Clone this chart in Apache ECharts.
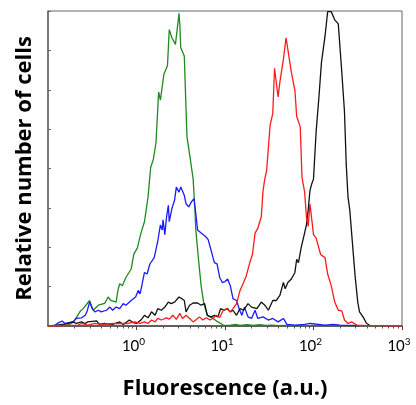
<!DOCTYPE html>
<html>
<head>
<meta charset="utf-8">
<script src="https://cdn.jsdelivr.net/npm/echarts@6/dist/echarts.min.js"></script>
<style>
  html, body { margin: 0; padding: 0; background: #fff; }
  #histogram { width: 416px; height: 405px; }
</style>
</head>
<body>
<div id="histogram"></div>
<script>
// each point: [log10(fluorescence), relative count]
const greenHist = [
  [-1.00, 0], [-0.92, 0.3], [-0.84, 0.3], [-0.77, 0.3], [-0.71, 1.3], [-0.64, 4.5], [-0.60, 5.6],
  [-0.53, 8.1], [-0.49, 5.0], [-0.43, 6.6], [-0.36, 7.2], [-0.32, 9.2], [-0.29, 8.1], [-0.23, 7.6],
  [-0.21, 11.3], [-0.19, 13.4], [-0.16, 12.8], [-0.12, 15.4], [-0.06, 18.1], [-0.03, 22.8], [0.01, 24.8],
  [0.05, 29.5], [0.09, 33.1], [0.11, 32.6], [0.13, 40.9], [0.15, 47.2], [0.16, 50.3], [0.19, 52.9],
  [0.22, 58.1], [0.25, 74.3], [0.27, 71.7], [0.28, 71.3], [0.31, 80.0], [0.35, 82.6], [0.37, 94.1],
  [0.40, 91.5], [0.44, 89.4], [0.47, 96.7], [0.48, 99.3], [0.49, 95.6], [0.50, 88.3], [0.54, 85.7],
  [0.57, 60.2], [0.60, 54.5], [0.64, 46.7], [0.66, 36.9], [0.67, 30.6], [0.70, 21.3], [0.73, 12.8],
  [0.76, 7.2], [0.80, 3.4], [0.86, 2.5], [0.92, 1.3], [0.98, 0.3], [1.05, 0.2], [1.12, 0.5],
  [1.17, 0.2], [1.25, 0.4], [1.32, 0.2], [1.39, 0.4], [1.46, 0.2], [1.53, 0.3], [1.60, 0.1],
  [1.67, 0.2], [1.73, 0.1], [1.85, 0]
];
const blueHist = [
  [-0.92, 0.3], [-0.89, 0.9], [-0.84, 1.6], [-0.81, 0.8], [-0.72, 1.3], [-0.68, 2.4], [-0.62, 2.6],
  [-0.58, 3.4], [-0.56, 4.5], [-0.53, 7.6], [-0.50, 5.5], [-0.47, 4.5], [-0.43, 5.0], [-0.40, 4.5],
  [-0.34, 5.0], [-0.30, 6.0], [-0.27, 5.0], [-0.23, 6.0], [-0.19, 5.5], [-0.15, 7.1], [-0.12, 6.6],
  [-0.06, 8.1], [-0.01, 9.2], [0.02, 11.3], [0.04, 10.2], [0.06, 12.8], [0.09, 17.0], [0.12, 16.5],
  [0.15, 19.6], [0.17, 19.1], [0.20, 21.7], [0.22, 21.2], [0.24, 26.9], [0.27, 32.1], [0.29, 30.5],
  [0.30, 33.7], [0.32, 29.0], [0.34, 34.7], [0.36, 38.3], [0.37, 33.1], [0.40, 37.3], [0.43, 39.9],
  [0.45, 44.1], [0.48, 42.5], [0.50, 44.1], [0.52, 43.5], [0.54, 41.5], [0.56, 38.8], [0.59, 37.8],
  [0.62, 39.4], [0.65, 40.4], [0.67, 35.7], [0.69, 30.5], [0.73, 29.5], [0.78, 28.4], [0.81, 27.4],
  [0.84, 24.3], [0.86, 22.2], [0.88, 20.1], [0.91, 19.7], [0.94, 15.4], [0.97, 13.8], [1.00, 14.1],
  [1.03, 14.9], [1.06, 12.8], [1.09, 8.7], [1.13, 8.1], [1.16, 5.5], [1.19, 3.4], [1.22, 6.0],
  [1.26, 2.9], [1.30, 2.4], [1.34, 5.0], [1.37, 2.4], [1.43, 2.9], [1.49, 1.9], [1.54, 2.4],
  [1.60, 1.3], [1.66, 2.4], [1.70, 0.5], [1.79, 0.3], [1.90, 0.5], [1.96, 0.8], [1.98, 0.3],
  [2.13, 0.3], [2.22, 0.5], [2.30, 0.3], [2.47, 0.2], [2.52, 0]
];
const blackHist = [
  [-0.92, 0], [-0.85, 0.5], [-0.80, 0.6], [-0.72, 1.3], [-0.68, 0.8], [-0.62, 1.3], [-0.58, 0.8],
  [-0.55, 1.3], [-0.45, 1.6], [-0.42, 0.5], [-0.36, 0.8], [-0.27, 0.5], [-0.19, 1.3], [-0.15, 0.5],
  [-0.08, 1.9], [-0.04, 1.1], [0.00, 0.8], [0.05, 1.9], [0.09, 3.4], [0.13, 2.6], [0.17, 4.5],
  [0.21, 3.4], [0.24, 5.5], [0.28, 5.0], [0.32, 6.0], [0.36, 7.6], [0.39, 7.1], [0.43, 7.6],
  [0.48, 9.2], [0.51, 8.7], [0.54, 8.1], [0.56, 4.5], [0.60, 6.6], [0.64, 7.3], [0.69, 7.3],
  [0.73, 6.6], [0.77, 7.1], [0.80, 3.4], [0.84, 2.9], [0.88, 3.4], [0.92, 2.9], [0.95, 5.5],
  [0.99, 5.0], [1.03, 5.5], [1.06, 4.5], [1.09, 5.0], [1.13, 3.4], [1.17, 5.5], [1.21, 5.0],
  [1.26, 7.1], [1.30, 6.0], [1.36, 5.5], [1.41, 7.6], [1.45, 6.6], [1.49, 5.0], [1.54, 8.1],
  [1.58, 8.1], [1.62, 9.7], [1.66, 13.8], [1.68, 11.8], [1.71, 13.8], [1.75, 14.9], [1.79, 17.0],
  [1.81, 21.2], [1.83, 20.1], [1.86, 24.8], [1.89, 28.4], [1.92, 32.1], [1.94, 36.8], [1.96, 43.0],
  [1.98, 45.1], [2.00, 46.7], [2.03, 61.8], [2.06, 72.2], [2.09, 83.7], [2.13, 92.0], [2.16, 99.8],
  [2.20, 99.8], [2.24, 97.2], [2.28, 95.9], [2.32, 80.5], [2.35, 68.0], [2.37, 51.3], [2.39, 40.9],
  [2.41, 36.8], [2.44, 26.3], [2.47, 15.9], [2.50, 7.6], [2.52, 4.5], [2.56, 2.9], [2.60, 0.8],
  [2.62, 0.3], [2.65, 0]
];
const redHist = [
  [-1.00, 0], [-0.66, 0.3], [-0.62, 0.8], [-0.55, 0.3], [-0.47, 0.8], [-0.40, 0.5], [-0.25, 0.8],
  [-0.10, 0.8], [-0.02, 1.3], [0.04, 0.8], [0.09, 1.3], [0.13, 0.8], [0.17, 1.9], [0.21, 1.3],
  [0.24, 2.4], [0.28, 1.9], [0.34, 2.6], [0.37, 2.2], [0.41, 3.4], [0.45, 2.1], [0.49, 4.0],
  [0.52, 2.4], [0.56, 3.4], [0.60, 2.4], [0.64, 1.3], [0.67, 1.9], [0.71, 2.9], [0.75, 1.9],
  [0.79, 2.6], [0.83, 1.9], [0.86, 2.4], [0.90, 3.4], [0.94, 2.7], [0.98, 5.0], [1.02, 5.5],
  [1.06, 4.5], [1.09, 5.5], [1.13, 7.1], [1.17, 11.3], [1.21, 13.8], [1.24, 15.9], [1.28, 20.1],
  [1.31, 22.7], [1.34, 29.5], [1.37, 31.0], [1.41, 34.7], [1.43, 43.0], [1.45, 46.7], [1.47, 49.3],
  [1.51, 63.8], [1.54, 67.5], [1.56, 81.8], [1.60, 72.7], [1.62, 77.4], [1.66, 84.7], [1.69, 91.5],
  [1.71, 91.5], [1.75, 80.5], [1.79, 74.8], [1.81, 66.5], [1.85, 63.3], [1.87, 47.2], [1.90, 42.5],
  [1.92, 34.7], [1.94, 31.6], [1.96, 38.8], [1.98, 38.4], [2.00, 29.0], [2.03, 27.9], [2.08, 22.7],
  [2.13, 21.7], [2.16, 16.5], [2.20, 12.8], [2.24, 7.6], [2.28, 5.0], [2.32, 4.8], [2.35, 1.9],
  [2.39, 0.8], [2.43, 1.3], [2.49, 0.3], [2.58, 0.2], [3.00, 0]
];

const majorTicks = [1, 10, 100, 1000];
const majorLabels = ['0', '1', '2', '3'];
const minorMultipliers = [2, 3, 4, 5, 6, 7, 8, 9];

const minorTicks = [];
[0.1, 1, 10, 100].forEach(d => minorMultipliers.forEach(m => minorTicks.push(+(d * m).toPrecision(3))));

const toPoints = hist => hist.map(p => [Math.pow(10, p[0]), p[1]]);

const chart = echarts.init(document.getElementById('histogram'));

const lineSeries = (name, color, hist) => ({
  name: name,
  type: 'line',
  xAxisIndex: 0,
  data: toPoints(hist),
  showSymbol: false,
  smooth: false,
  lineStyle: { color: color, width: 1.3 },
  itemStyle: { color: color }
});

const titleFont = { fontFamily: 'Open Sans', fontWeight: 'bold', fontSize: 22, color: '#000' };

chart.setOption({
  animation: false,
  backgroundColor: '#fff',
  textStyle: { fontFamily: 'Lato' },
  grid: {
    left: 48, right: 14, top: 11, bottom: 74,
    show: true,
    borderColor: '#666',
    borderWidth: 1
  },
  xAxis: [
    {
      type: 'log',
      logBase: 10,
      min: 0.1,
      max: 1000,
      name: 'Fluorescence (a.u.)',
      nameLocation: 'middle',
      nameGap: 52,
      nameTextStyle: titleFont,
      axisLine: { lineStyle: { color: '#444', width: 1.5 } },
      axisTick: { show: true, length: 4, lineStyle: { color: '#444' }, customValues: majorTicks },
      axisLabel: {
        customValues: majorTicks,
        margin: 11,
        padding: [0, 6, 0, 0],
        formatter: v => {
          const i = majorTicks.indexOf(Math.round(v));
          return i < 0 ? '' : '{b|10}{s|' + majorLabels[i] + '}';
        },
        rich: {
          b: { fontFamily: 'Lato', fontSize: 15, color: '#000', lineHeight: 18 },
          s: { fontFamily: 'Lato', fontSize: 10, color: '#000', verticalAlign: 'top', lineHeight: 12 }
        }
      },
      splitLine: { show: false },
      minorTick: { show: false }
    },
    {
      type: 'log',
      logBase: 10,
      min: 0.1,
      max: 1000,
      gridIndex: 0,
      position: 'bottom',
      axisLine: { show: false },
      axisLabel: { show: false },
      axisTick: { show: true, length: 2.5, lineStyle: { color: '#555' }, customValues: minorTicks },
      splitLine: { show: false }
    }
  ],
  yAxis: {
    type: 'value',
    min: 0,
    max: 100,
    interval: 12.5,
    name: 'Relative number of cells',
    nameLocation: 'middle',
    nameGap: 12,
    nameTextStyle: titleFont,
    axisLine: { show: true, lineStyle: { color: '#666', width: 1.5 } },
    axisTick: { show: true, inside: true, length: 3, lineStyle: { color: '#666' } },
    axisLabel: { show: false },
    splitLine: { show: false }
  },
  series: [
    lineSeries('green', '#1f8a1f', greenHist),
    lineSeries('blue', '#1a1aff', blueHist),
    lineSeries('black', '#111', blackHist),
    lineSeries('red', '#ff1a1a', redHist)
  ]
});
</script>
</body>
</html>
